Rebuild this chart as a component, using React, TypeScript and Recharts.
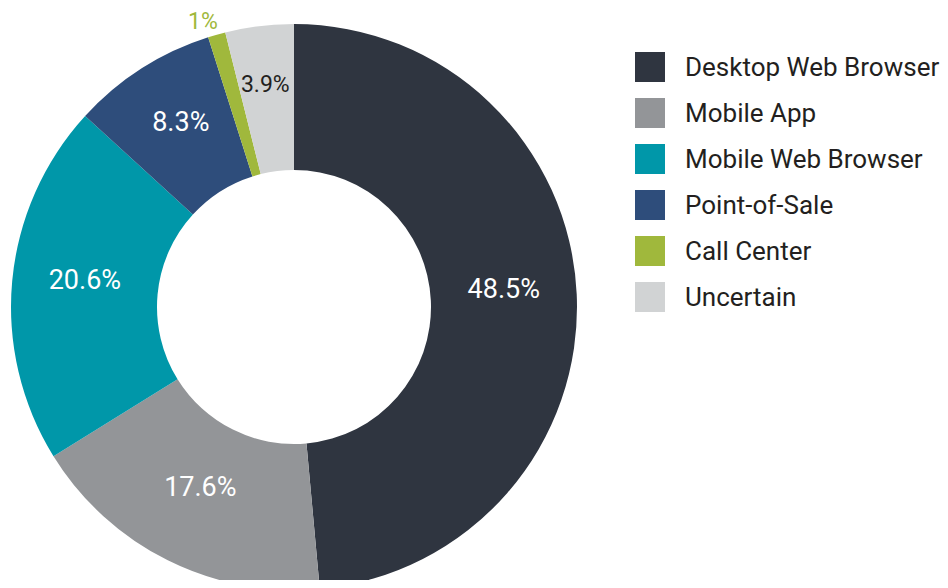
import React from "react";
import { PieChart, Pie, Cell, Legend } from "recharts";

const channels = [
  "Desktop Web Browser",
  "Mobile App",
  "Mobile Web Browser",
  "Point-of-Sale",
  "Call Center",
  "Uncertain",
];
const shares = [48.5, 17.6, 20.6, 8.3, 1, 3.9];
const labels = ["48.5%", "17.6%", "20.6%", "8.3%", "1%", "3.9%"];
const colors = ["#2f3540", "#939598", "#0097a9", "#2e4d7b", "#a0b83c", "#d1d3d4"];

const data = channels.map((name, i) => ({ name, value: shares[i], label: labels[i] }));

const FONT = "Roboto, 'DejaVu Sans', sans-serif";
const RAD = Math.PI / 180;

const renderLabel = (props: any) => {
  const { cx, cy, midAngle, innerRadius, outerRadius, index } = props;
  const outside = index === 4;
  const small = index === 5;
  const r = outside ? outerRadius + 14 : (innerRadius + outerRadius) / 2;
  let x = cx + r * Math.cos(-midAngle * RAD);
  let y = cy + r * Math.sin(-midAngle * RAD);
  if (outside) x -= 10;
  else if (small) { x -= 3; y -= 14; }
  else y -= 8;
  let fill = "#ffffff";
  if (outside) fill = "#a0b83c";
  if (small) fill = "#231f20";
  return (
    <text
      x={x}
      y={y}
      fill={fill}
      textAnchor="middle"
      dominantBaseline="central"
      fontFamily={FONT}
      fontSize={outside || small ? 23 : 27}
    >
      {labels[index]}
    </text>
  );
};

const LegendBox = () => (
  <div style={{ fontFamily: FONT }}>
    {channels.map((name, i) => (
      <div
        key={name}
        style={{ display: "flex", alignItems: "center", height: 46 }}
      >
        <div style={{ width: 30, height: 30, background: colors[i], marginRight: 20 }} />
        <span style={{ fontSize: 26, color: "#231f20", whiteSpace: "nowrap" }}>{name}</span>
      </div>
    ))}
  </div>
);

export default function App() {
  return (
    <div style={{ margin: -8, width: 948, height: 588, overflow: "hidden", background: "#fff" }}>
      <PieChart width={948} height={588} margin={{ top: 0, right: 0, bottom: 0, left: 0 }}>
        <Pie
          data={data}
          dataKey="value"
          nameKey="name"
          cx={294}
          cy={307}
          innerRadius={137}
          outerRadius={283}
          startAngle={90}
          endAngle={-270}
          stroke="none"
          label={renderLabel}
          labelLine={false}
          isAnimationActive={false}
        >
          {data.map((d, i) => (
            <Cell key={d.name} fill={colors[i]} />
          ))}
        </Pie>
        <Legend
          content={() => <LegendBox />}
          wrapperStyle={{ position: "absolute", left: 635, top: 44, width: 320 }}
        />
      </PieChart>
    </div>
  );
}
